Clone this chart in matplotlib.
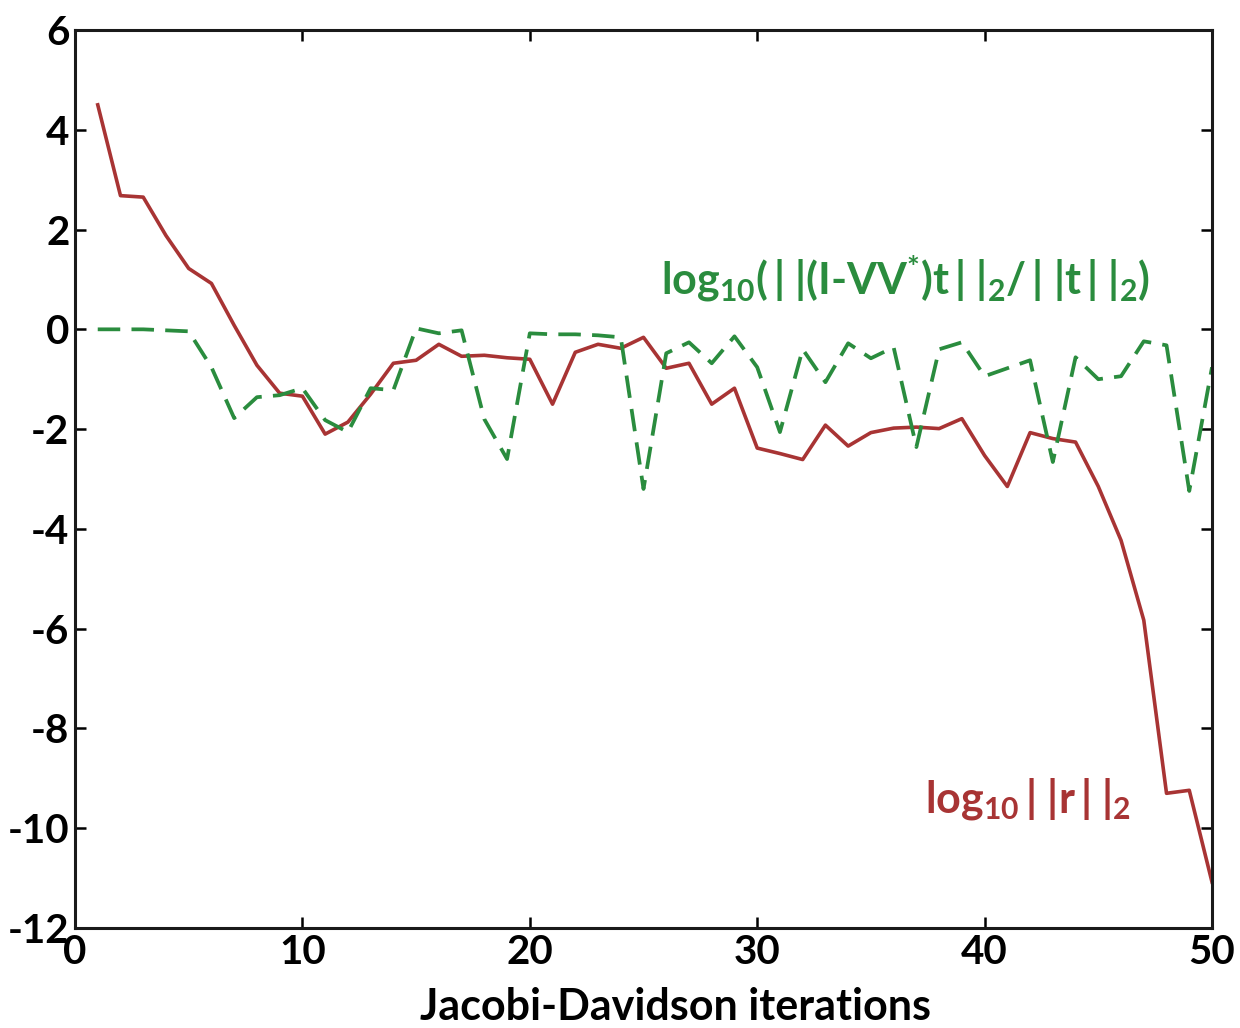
import numpy as np
import matplotlib
matplotlib.use('Agg')
import matplotlib.pyplot as plt

# residual norm (log10) per Jacobi-Davidson iteration
iters = np.arange(1, 51)
res_norm = [4.5, 2.68, 2.65, 1.88, 1.22, 0.92, 0.08, -0.72, -1.28, -1.34,
            -2.1, -1.86, -1.3, -0.68, -0.62, -0.3, -0.54, -0.52, -0.57, -0.6,
            -1.5, -0.46, -0.3, -0.38, -0.16, -0.78, -0.68, -1.5, -1.18, -2.38,
            -2.49, -2.61, -1.92, -2.34, -2.07, -1.98, -1.96, -1.99, -1.79, -2.53,
            -3.15, -2.07, -2.19, -2.26, -3.15, -4.23, -5.83, -9.3, -9.24, -11.08]
# relative norm of projected correction (log10)
proj_norm = [0.0, 0.0, 0.0, -0.02, -0.04, -0.76, -1.78, -1.36, -1.32, -1.18,
             -1.82, -2.06, -1.18, -1.22, 0.02, -0.08, -0.02, -1.8, -2.6, -0.08,
             -0.1, -0.1, -0.12, -0.16, -3.2, -0.48, -0.26, -0.68, -0.14, -0.76,
             -2.06, -0.4, -1.06, -0.28, -0.58, -0.36, -2.36, -0.4, -0.26, -0.94,
             -0.78, -0.62, -2.66, -0.56, -1.0, -0.94, -0.24, -0.32, -3.24, -0.76]

xticks = [0, 10, 20, 30, 40, 50]
yticks = [6, 4, 2, 0, -2, -4, -6, -8, -10, -12]

red = '#a83434'
green = '#2a8c3e'

plt.rcParams['font.family'] = ['Lato', 'DejaVu Sans']
plt.rcParams['font.weight'] = 'bold'
plt.rcParams['axes.unicode_minus'] = False
plt.rcParams['mathtext.fontset'] = 'custom'
plt.rcParams['mathtext.rm'] = 'Lato:bold'
plt.rcParams['mathtext.bf'] = 'Lato:bold'
plt.rcParams['mathtext.it'] = 'Lato:bold'
plt.rcParams['mathtext.default'] = 'bf'

fig = plt.figure(figsize=(12.4, 10.28), dpi=100)
ax = fig.add_axes([75 / 1240, 100 / 1028, 1137 / 1240, 898 / 1028])

ax.plot(iters, res_norm, color=red, lw=2.6)
ax.plot(iters, proj_norm, color=green, lw=2.7, dashes=(6, 3))

ax.set_xlim(0, 50)
ax.set_ylim(-12, 6)
ax.set_xticks(xticks)
ax.set_yticks(yticks)
ax.tick_params(direction='in', length=8, width=1.8, top=True, right=True,
               labelsize=29, pad=4)
for s in ax.spines.values():
    s.set_linewidth(2.2)
    s.set_color('#1a1a1a')

ax.text(0.528, -0.103, 'Jacobi-Davidson iterations', transform=ax.transAxes,
        ha='center', va='baseline', fontsize=31, fontweight='bold')

# curve labels
ax.text(0.515, 0.705,
        r'$log_{10}(\,|\;|(I\text{-}VV^{*})t\,|\;|_{2}/\,|\;|t\,|\;|_{2})$',
        transform=ax.transAxes, color=green, fontsize=31)
ax.text(0.748, 0.129, r'$log_{10}\,|\;|r\,|\;|_{2}$',
        transform=ax.transAxes, color=red, fontsize=31)

fig.savefig('out.png', dpi=100)
